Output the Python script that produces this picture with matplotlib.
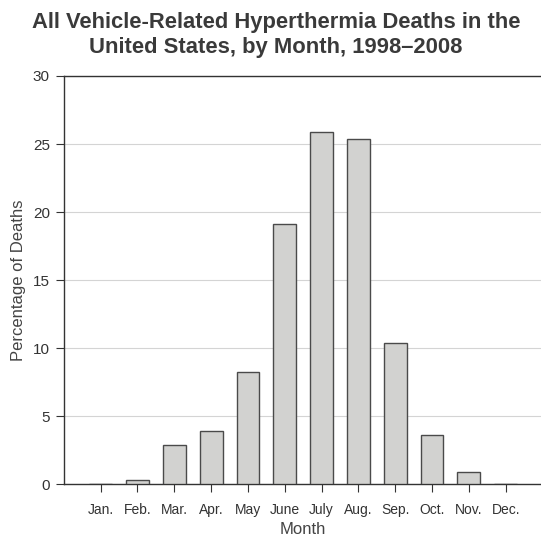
import matplotlib
matplotlib.use("Agg")
import matplotlib.pyplot as plt
import numpy as np

months = ["Jan.", "Feb.", "Mar.", "Apr.", "May", "June", "July",
          "Aug.", "Sep.", "Oct.", "Nov.", "Dec."]
percent = [0.0, 0.3, 2.9, 3.9, 8.2, 19.1, 25.9, 25.4, 10.4, 3.6, 0.9, 0.0]
y_ticks = [0, 5, 10, 15, 20, 25, 30]

plt.rcParams["font.family"] = ["Liberation Sans", "DejaVu Sans"]

fig = plt.figure(figsize=(5.41, 5.39), dpi=100)
ax = fig.add_axes([0.118, 0.102, 0.882, 0.757])

x = np.arange(1, len(months) + 1)
ax.bar(x, percent, width=0.62, color="#d2d2d0", edgecolor="#4a4a4a",
       linewidth=1.0, zorder=3)

ax.set_xlim(0, 12.96)
ax.set_ylim(0, 30)
ax.set_yticks(y_ticks)
ax.set_xticks(x)
ax.set_xticklabels(months)
ax.yaxis.grid(True, color="#d4d4d4", linewidth=0.8, zorder=0)

ax.spines["right"].set_visible(False)
for side in ["left", "bottom", "top"]:
    ax.spines[side].set_color("#333333")
    ax.spines[side].set_linewidth(1.0)

ax.tick_params(axis="both", colors="#333333", labelcolor="#333333",
               direction="out", length=6, width=0.8)
ax.tick_params(axis="x", labelsize=10, pad=8)
ax.tick_params(axis="y", labelsize=11, pad=4)

ax.set_ylabel("Percentage of Deaths", fontsize=12, color="#444444", labelpad=5)
ax.set_xlabel("Month", fontsize=12, color="#444444", labelpad=3)

fig.text(0.51, 0.978, "All Vehicle-Related Hyperthermia Deaths in the\nUnited States, by Month, 1998\u20132008",
         ha="center", va="top", fontsize=15.8, fontweight="bold",
         color="#3a3a3a", linespacing=1.25)

fig.savefig("out.png", dpi=100)
